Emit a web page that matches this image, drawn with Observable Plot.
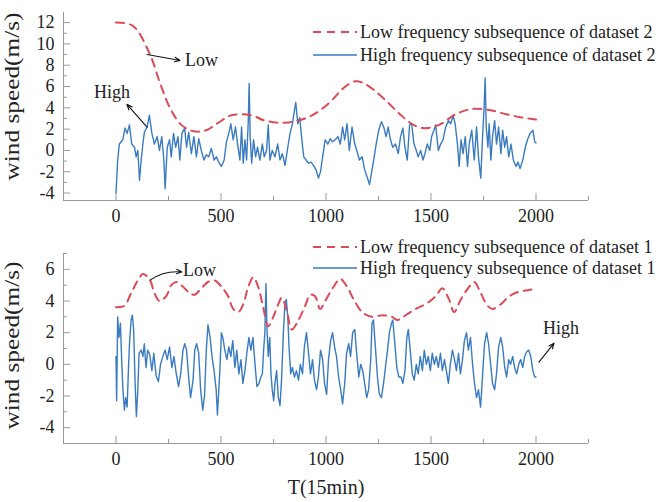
<!DOCTYPE html>
<html>
<head>
<meta charset="utf-8">
<script src="https://cdn.jsdelivr.net/npm/d3@7"></script>
<script src="https://cdn.jsdelivr.net/npm/@observablehq/plot@0.6"></script>
<style>
  body { margin: 0; background: #fff; }
  #chart { width: 668px; }
  #chart svg { display: block; }
</style>
</head>
<body>
<div id="chart"></div>
<script>
// ---- Time axis (15-min steps) ----
const X_DOMAIN = [-250, 2250];
const X_MAJOR = [0, 500, 1000, 1500, 2000];
const X_MINOR = [250, 750, 1250, 1750, 2250];

// ---- Dataset 2 (upper panel) ----
const Y2_DOMAIN = [-4.7, 12.95];
const Y2_MAJOR = [-4, -2, 0, 2, 4, 6, 8, 10, 12];
const Y2_MINOR = [-3, -1, 1, 3, 5, 7, 9, 11];

const LOW2_T = [0, 80, 160, 210, 257, 311, 370, 430, 480, 550, 645, 709, 805, 900, 960, 1028, 1080, 1140, 1190, 1251, 1300, 1347, 1400, 1460, 1538, 1618, 1698, 1777, 1857, 1930, 2000];
const LOW2_V = [12.0, 11.7, 9.1, 6.3, 4.0, 2.4, 1.8, 1.9, 2.5, 3.3, 3.3, 2.8, 2.6, 3.0, 3.6, 4.7, 5.8, 6.5, 6.2, 5.3, 4.4, 3.5, 2.6, 2.1, 2.4, 3.4, 3.9, 3.8, 3.4, 3.1, 2.9];

const HIGH2_T = [0, 8, 16, 32, 43, 53, 64, 75, 88, 96, 104, 112, 120, 128, 135, 148, 159, 171, 183, 196, 207, 218, 228, 234, 244, 255, 263, 274, 284, 295, 304, 314, 327, 336, 346, 359, 371, 383, 394, 406, 419, 430, 442, 454, 467, 478, 489, 502, 515, 526, 537, 547, 558, 569, 579, 590, 598, 606, 614, 622, 630, 634, 639, 646, 655, 665, 674, 685, 697, 706, 717, 725, 733, 744, 757, 770, 781, 792, 805, 818, 829, 840, 850, 856, 866, 875, 885, 894, 905, 917, 929, 940, 952, 964, 974, 984, 996, 1009, 1020, 1031, 1044, 1057, 1068, 1079, 1089, 1100, 1111, 1124, 1137, 1148, 1159, 1172, 1184, 1196, 1207, 1216, 1227, 1239, 1251, 1264, 1275, 1286, 1296, 1307, 1318, 1331, 1344, 1355, 1366, 1376, 1387, 1398, 1408, 1419, 1430, 1439, 1451, 1462, 1471, 1482, 1494, 1503, 1514, 1522, 1535, 1546, 1557, 1570, 1583, 1594, 1605, 1615, 1626, 1634, 1643, 1653, 1663, 1674, 1682, 1694, 1706, 1717, 1726, 1737, 1745, 1753, 1758, 1763, 1771, 1777, 1785, 1793, 1803, 1812, 1822, 1833, 1841, 1851, 1860, 1870, 1881, 1892, 1905, 1914, 1924, 1937, 1949, 1961, 1972, 1985, 1994, 2000];
const HIGH2_V = [-4.0, -0.9, 0.6, 1.0, 2.1, 1.6, 2.4, 0.6, 0.3, -0.6, 0.0, -2.8, -0.9, 0.6, 1.7, 2.2, 3.3, 1.6, 0.6, 1.3, 0.0, 1.3, -0.9, -3.6, 0.3, 1.0, -0.6, 1.6, 0.3, 1.3, -0.9, 1.6, 2.1, 0.3, 1.7, -0.3, 1.3, -0.6, 1.1, 0.0, -0.9, -0.4, -0.6, 0.2, -0.9, -0.6, -1.1, -1.5, -0.9, 0.8, 1.6, 2.5, 1.0, 2.2, 0.6, -0.9, 2.2, -1.2, 1.0, -0.9, 2.8, 6.3, 1.3, -1.2, 1.0, -0.6, 0.3, -0.9, 0.6, -0.6, 0.0, 2.4, -0.9, 0.0, -0.6, 0.6, -0.9, -0.3, -1.4, 0.3, 1.6, 2.5, 3.8, 4.5, 2.5, 3.1, 1.0, -0.6, -0.9, -1.2, -1.1, -1.4, -1.8, -2.6, -2.0, -0.6, 1.0, 0.6, 1.1, 0.8, 1.0, 1.3, 0.6, 2.2, 1.0, 2.5, 0.0, 2.2, 0.6, -0.1, -0.9, -0.6, -1.8, -2.5, -3.2, -2.2, -0.9, 0.6, 1.9, 2.7, 2.2, 1.3, 2.2, 1.0, 0.3, 0.6, -0.3, 1.3, 2.1, 0.3, -0.9, 2.4, 2.5, 0.6, 0.0, -0.6, 0.0, -0.9, -0.3, 0.6, 0.0, 1.3, 1.9, 2.4, 0.0, 0.6, 1.0, 2.2, 2.8, 2.5, 3.3, 2.5, 0.6, -1.5, 1.0, -0.3, 1.3, -1.5, 0.6, 1.9, -0.9, 2.2, -0.6, -2.6, 1.0, 4.1, 6.8, 2.2, 0.3, 2.5, -0.9, 1.3, 2.8, 0.6, 2.2, -0.3, 1.9, 0.3, 1.3, -0.6, 0.6, -0.9, -1.5, -1.1, -1.7, -0.9, 0.3, 1.1, 1.6, 1.9, 0.8, 0.7];

// ---- Dataset 1 (lower panel) ----
const Y1_DOMAIN = [-5, 7];
const Y1_MAJOR = [-4, -2, 0, 2, 4, 6];
const Y1_MINOR = [-3, -1, 1, 3, 5, 7];

const LOW1_T = [0, 40, 72, 104, 128, 159, 183, 207, 239, 263, 287, 319, 351, 375, 406, 438, 470, 502, 534, 558, 582, 606, 630, 654, 677, 701, 725, 749, 773, 789, 813, 837, 869, 901, 925, 948, 972, 996, 1036, 1068, 1100, 1132, 1172, 1219, 1267, 1315, 1339, 1379, 1427, 1474, 1522, 1554, 1586, 1610, 1642, 1682, 1706, 1737, 1769, 1793, 1833, 1873, 1921, 1968, 2000];
const LOW1_V = [3.6, 3.7, 4.5, 5.3, 5.7, 5.4, 4.5, 4.0, 4.3, 5.0, 5.2, 4.9, 4.5, 4.4, 4.8, 5.2, 5.3, 4.9, 4.3, 3.5, 3.3, 3.8, 4.9, 5.5, 4.9, 3.6, 2.4, 3.0, 3.8, 4.2, 3.4, 2.2, 2.8, 3.7, 4.4, 4.3, 3.5, 4.0, 4.9, 5.4, 4.9, 4.1, 3.3, 3.0, 3.1, 3.0, 2.8, 3.1, 3.5, 3.8, 4.3, 4.8, 4.1, 3.3, 4.1, 4.9, 5.2, 4.5, 3.7, 3.5, 3.8, 4.3, 4.6, 4.7, 4.8];

const HIGH1_T = [0, 3, 8, 14, 21, 27, 33, 40, 46, 53, 59, 65, 72, 78, 84, 91, 97, 104, 110, 120, 128, 135, 143, 151, 161, 171, 180, 191, 202, 212, 223, 234, 244, 255, 266, 276, 287, 298, 308, 319, 327, 336, 346, 355, 367, 375, 384, 394, 403, 413, 422, 430, 438, 448, 457, 467, 477, 483, 493, 502, 510, 518, 528, 537, 547, 556, 566, 575, 585, 595, 604, 614, 623, 633, 642, 652, 662, 671, 681, 690, 697, 703, 709, 714, 719, 725, 732, 738, 744, 751, 757, 765, 773, 781, 789, 797, 805, 811, 818, 824, 832, 840, 850, 859, 869, 878, 888, 897, 907, 917, 926, 936, 945, 955, 964, 974, 984, 993, 1003, 1012, 1022, 1031, 1041, 1050, 1060, 1070, 1079, 1089, 1098, 1108, 1117, 1127, 1137, 1146, 1156, 1165, 1175, 1184, 1194, 1203, 1213, 1219, 1226, 1235, 1245, 1254, 1264, 1274, 1283, 1293, 1302, 1312, 1318, 1328, 1337, 1347, 1357, 1366, 1376, 1385, 1392, 1401, 1411, 1420, 1430, 1439, 1449, 1459, 1468, 1478, 1487, 1497, 1506, 1516, 1525, 1535, 1545, 1554, 1564, 1573, 1583, 1592, 1602, 1612, 1621, 1631, 1640, 1650, 1659, 1669, 1678, 1688, 1698, 1707, 1717, 1726, 1736, 1745, 1755, 1765, 1774, 1784, 1793, 1803, 1812, 1822, 1832, 1841, 1851, 1860, 1870, 1879, 1889, 1898, 1908, 1918, 1927, 1937, 1946, 1956, 1965, 1975, 1985, 1994, 2000];
const HIGH1_V = [0.5, -2.3, 3.0, 1.7, 2.6, 0.3, -1.6, -2.9, -2.1, -2.7, -0.4, 1.5, 2.8, 3.1, 2.2, -1.2, -3.3, -1.6, 0.7, 0.9, 0.5, 1.3, -0.2, 0.9, 0.6, -0.4, 0.7, -0.7, -1.1, 0.0, 0.5, 0.9, 0.3, 1.1, -0.2, 0.5, -0.6, -1.4, -0.6, 0.9, 1.3, 0.9, -0.8, -2.1, -1.0, 0.9, 1.3, 0.7, -1.6, -2.9, -1.9, 0.9, 2.5, 1.7, 0.5, -0.4, -1.6, -3.2, -0.8, 2.0, 1.6, 0.9, 0.3, 1.1, 0.5, 1.5, -0.2, 0.9, -0.6, 0.3, -1.2, -0.4, 0.7, 1.7, 0.9, 1.7, 0.0, -1.4, -1.2, -0.8, -0.6, 0.9, 2.0, 5.1, 2.2, 0.5, 1.7, -0.6, -1.6, -2.3, -1.2, -0.4, -2.1, -2.6, -0.8, 2.0, 3.9, 4.1, 3.0, 1.1, -0.6, -0.2, -0.8, -0.4, -1.0, 0.0, -0.6, 1.1, 2.0, 0.7, -0.6, 0.3, -1.0, -1.6, -0.8, 0.9, 0.3, -1.2, -1.9, 0.3, 1.5, 2.0, 1.1, 0.5, -0.8, -1.6, -2.5, -1.2, 0.7, 1.3, 0.5, 2.0, 2.2, 0.7, -0.8, 0.0, -0.4, -1.2, -2.1, -1.6, 0.3, 2.6, 2.8, 1.1, -0.8, -1.9, -2.1, -1.2, -0.2, 0.9, 2.0, 2.6, 2.8, 1.3, -0.2, -0.8, -0.8, -1.2, -0.4, 1.7, 2.2, 0.9, -0.6, -1.0, 0.0, -0.6, 0.5, -0.4, 0.9, 0.0, 0.5, -0.4, 0.7, 0.0, 0.5, -0.2, 0.7, -0.4, 0.3, -0.4, -1.2, 0.0, 0.9, 0.3, -0.4, 0.7, -0.6, 0.3, 1.5, 2.0, 0.9, 1.7, 0.0, -1.2, -2.1, -1.6, -2.7, -0.8, 1.3, 2.0, 1.3, 0.0, -1.2, -1.6, -0.6, 1.1, 1.7, 1.1, -0.2, -0.8, 0.3, 0.0, 0.5, -0.2, -0.6, 0.0, 0.3, -0.2, 0.5, 0.8, 0.9, 0.5, -0.4, -0.8, -0.8];

// ---- Annotation labels and arrows (in data coordinates) ----
const NOTES2_LABELS = [{t: 329, v: 8.45, label: "Low", anchor: "start"}, {t: -19, v: 5.45, label: "High", anchor: "middle"}];
const NOTES2_ARROWS = [{t1: 148, v1: 9.0, t2: 305, v2: 8.45, bend: 0}, {t1: 148, v1: 2.18, t2: 52, v2: 4.33, bend: 0}];
const NOTES1_LABELS = [{t: 319, v: 5.96, label: "Low", anchor: "start"}, {t: 2119, v: 2.28, label: "High", anchor: "middle"}];
const NOTES1_ARROWS = [{t1: 162, v1: 5.32, t2: 314, v2: 5.83, bend: 20}, {t1: 2014, v1: 0.14, t2: 2086, v2: 1.34, bend: 0}];

// ---- Styling ----
const FONT = "'Liberation Serif', 'Times New Roman', serif";
const INK = "#222";
const AXIS = "#9a9a9a";
const BLUE = "#3a7bc0";
const RED = "#dc4a57";
const ML = 63, MR = 80, W = 668;
const Y_TITLE = "wind speed(m/s)";
const Y_TITLE_LEN = 168;

function panel(cfg) {
  const low = cfg.lowT.map((t, i) => ({t, v: cfg.lowV[i]}));
  const high = cfg.highT.map((t, i) => ({t, v: cfg.highV[i]}));
  const frameW = W - ML - MR;
  const frameH = cfg.height - cfg.marginTop - cfg.marginBottom;
  const fmt = d => String(d);
  const marks = [
    Plot.ruleX([X_DOMAIN[0]], {stroke: AXIS}),
    Plot.ruleY([cfg.yDomain[0]], {stroke: AXIS}),
    Plot.tickX(X_MAJOR, {stroke: AXIS, insetTop: frameH - 7}),
    Plot.tickX(X_MINOR, {stroke: AXIS, insetTop: frameH - 4}),
    Plot.tickY(cfg.yMajor, {stroke: AXIS, insetRight: frameW - 7}),
    Plot.tickY(cfg.yMinor, {stroke: AXIS, insetRight: frameW - 4}),
    Plot.axisX(X_MAJOR, {tickSize: 0, tickPadding: 9, tickFormat: fmt, label: null, fontSize: 18}),
    Plot.axisY(cfg.yMajor, {tickSize: 0, tickPadding: 9, tickFormat: fmt, label: null, fontSize: 18}),
    Plot.line(high, {x: "t", y: "v", stroke: BLUE, strokeWidth: 1.4}),
    Plot.line(low, {x: "t", y: "v", stroke: RED, strokeWidth: 2, strokeDasharray: "8,6", curve: "catmull-rom"}),
    Plot.text([Y_TITLE], {frameAnchor: "left", rotate: -90, dx: -51, dy: cfg.yLabelDy, fontSize: 21, fill: INK})
  ];
  for (const a of cfg.arrows) {
    marks.push(Plot.arrow([a], {x1: "t1", y1: "v1", x2: "t2", y2: "v2", bend: a.bend, stroke: "#111", strokeWidth: 1.1, headLength: 8, headAngle: 45}));
  }
  for (const n of cfg.labels) {
    marks.push(Plot.text([n], {x: "t", y: "v", text: "label", textAnchor: n.anchor, fontSize: 18, fill: INK}));
  }
  if (cfg.xLabel) {
    marks.push(Plot.text([cfg.xLabel], {frameAnchor: "bottom", dy: 50, fontSize: 20, fill: INK}));
  }
  const svg = Plot.plot({
    width: W,
    height: cfg.height,
    marginLeft: ML,
    marginRight: MR,
    marginTop: cfg.marginTop,
    marginBottom: cfg.marginBottom,
    x: {domain: X_DOMAIN},
    y: {domain: cfg.yDomain},
    style: {fontFamily: FONT, fontSize: "18px", color: INK, background: "#fff"},
    marks
  });

  // stretch the rotated axis title along its length, centred on its anchor
  d3.select(svg).selectAll("text")
    .filter(function () { return this.textContent === Y_TITLE; })
    .attr("text-anchor", "start")
    .attr("x", -Y_TITLE_LEN / 2)
    .attr("textLength", Y_TITLE_LEN)
    .attr("lengthAdjust", "spacingAndGlyphs");

  // legend in the upper right of the panel
  const g = d3.select(svg).append("g")
    .attr("font-family", FONT).attr("font-size", 18).attr("fill", INK)
    .attr("text-anchor", "start");
  cfg.legend.forEach((it, i) => {
    const y = cfg.legendY + i * cfg.legendGap;
    g.append("line")
      .attr("x1", 313).attr("x2", 357).attr("y1", y).attr("y2", y)
      .attr("stroke", it.color).attr("stroke-width", it.width)
      .attr("stroke-dasharray", it.dash);
    g.append("text").attr("x", 360).attr("y", y).attr("dy", "0.34em").text(it.label);
  });
  return svg;
}

const chart = document.getElementById("chart");

chart.append(panel({
  height: 228, marginTop: 12, marginBottom: 28,
  yDomain: Y2_DOMAIN, yMajor: Y2_MAJOR, yMinor: Y2_MINOR,
  lowT: LOW2_T, lowV: LOW2_V, highT: HIGH2_T, highV: HIGH2_V,
  labels: NOTES2_LABELS, arrows: NOTES2_ARROWS,
  yLabelDy: -10,
  legendY: 32, legendGap: 23,
  legend: [
    {label: "Low frequency subsequence of dataset 2", color: RED, width: 2, dash: "8,6"},
    {label: "High frequency subsequence of dataset 2", color: BLUE, width: 1.6, dash: null}
  ]
}));

chart.append(panel({
  height: 274, marginTop: 25, marginBottom: 59,
  yDomain: Y1_DOMAIN, yMajor: Y1_MAJOR, yMinor: Y1_MINOR,
  lowT: LOW1_T, lowV: LOW1_V, highT: HIGH1_T, highV: HIGH1_V,
  labels: NOTES1_LABELS, arrows: NOTES1_ARROWS,
  yLabelDy: -3,
  xLabel: "T(15min)",
  legendY: 19, legendGap: 21,
  legend: [
    {label: "Low frequency subsequence of dataset 1", color: RED, width: 2, dash: "8,6"},
    {label: "High frequency subsequence of dataset 1", color: BLUE, width: 1.6, dash: null}
  ]
}));
</script>
</body>
</html>
